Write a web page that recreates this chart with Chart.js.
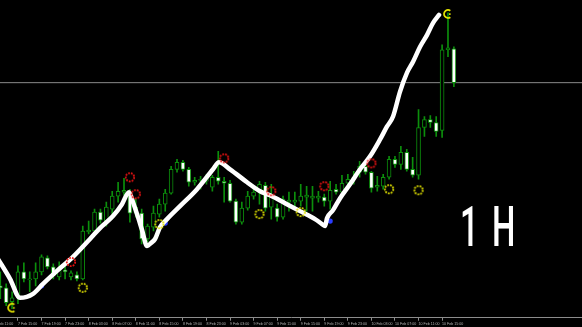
<!DOCTYPE html>
<html>
<head>
<meta charset="utf-8">
<script src="https://cdn.jsdelivr.net/npm/chart.js@4.4.1/dist/chart.umd.min.js"></script>
<style>
  html, body { margin: 0; padding: 0; background: #000; }
  canvas { display: block; }
</style>
</head>
<body>
<canvas id="grafico" width="582" height="327"></canvas>
<script>
// velas 1H, 7 Feb 12:00 -> 10 Feb 17:00 (una por hora)
const aperturas = [43, 41, 27, 32, 57, 49, 50, 57, 71, 62, 52, 59, 52, 54, 50, 97, 98, 117, 108, 120,
    133, 137, 137, 116, 116, 90, 102, 115, 125, 136, 160, 167, 160, 147, 149, 148, 142, 152, 148, 146,
    128, 107, 121, 133, 138, 144, 122, 121, 112, 127, 127, 128, 132, 131, 131, 132, 128, 140, 137, 146,
    150, 157, 163, 157, 142, 143, 152, 170, 165, 177, 160, 154, 202, 210, 207, 199, 280, 281];
const maximos = [57, 45, 37, 63, 66, 57, 66, 74, 73, 65, 67, 63, 58, 57, 103, 108, 120, 120, 127, 138,
    147, 151, 140, 130, 120, 105, 123, 130, 140, 163, 170, 169, 162, 152, 153, 155, 154, 178, 152, 149,
    130, 127, 138, 142, 148, 147, 145, 125, 133, 137, 137, 145, 143, 143, 138, 135, 148, 145, 154, 155,
    158, 168, 168, 158, 153, 155, 173, 173, 183, 180, 172, 220, 213, 214, 213, 285, 317, 283];
const minimos = [30, 23, 20, 25, 47, 37, 43, 54, 60, 50, 49, 50, 49, 48, 49, 95, 97, 106, 103, 110,
    127, 134, 107, 112, 85, 87, 98, 112, 118, 135, 157, 158, 143, 144, 140, 145, 138, 145, 127, 127,
    105, 105, 119, 130, 125, 118, 110, 108, 110, 118, 120, 123, 118, 118, 127, 123, 120, 135, 135, 143,
    145, 152, 155, 137, 138, 140, 150, 162, 160, 158, 152, 150, 193, 202, 193, 192, 273, 243];
const cierres = [41, 26, 31, 57, 50, 50, 57, 72, 62, 53, 59, 57, 56, 50, 98, 99, 117, 109, 122, 133,
    138, 139, 116, 122, 90, 103, 116, 125, 136, 160, 167, 160, 147, 149, 150, 152, 152, 148, 146, 128,
    107, 121, 133, 137, 145, 121, 132, 112, 130, 129, 129, 133, 134, 133, 133, 128, 139, 137, 146, 150,
    152, 163, 157, 141, 144, 152, 170, 165, 177, 160, 154, 202, 210, 207, 198, 280, 282, 247];

// etiquetas del eje de tiempo (cada 4 velas)
const tickIdx = [-1, 3, 7, 11, 15, 19, 23, 27, 31, 35, 39, 43, 47, 51, 55, 59, 63, 67, 71, 75];
const tickLabels = ['7 Feb 11:00', '7 Feb 15:00', '7 Feb 19:00', '7 Feb 23:00', '8 Feb 03:00',
    '8 Feb 07:00', '8 Feb 11:00', '8 Feb 15:00', '8 Feb 19:00', '8 Feb 23:00', '9 Feb 03:00',
    '9 Feb 07:00', '9 Feb 11:00', '9 Feb 15:00', '9 Feb 19:00', '9 Feb 23:00', '10 Feb 03:00',
    '10 Feb 07:00', '10 Feb 11:00', '10 Feb 15:00'];

// trazo a mano (indice de vela, precio)
const trazoIdx = [-0.5, 1.65, 3.35, 5.55, 7.25, 9.63, 12.34, 15.23, 16.93, 19.13, 20.66, 21.85,
    22.53, 23.38, 24.06, 24.91, 25.59, 26.27, 27.12, 28.3, 30.51, 33.4, 36.11, 37.13, 39, 41.89,
    44.09, 45.79, 48.34, 50.88, 53.43, 54.62, 55.13, 55.47, 56.49, 57.68, 59.37, 61.07, 62.77,
    64.47, 65.65, 66.67, 67.86, 69.05, 70.07, 71.26, 72.45, 73.47, 74.48];
const trazoPrecio = [71, 50, 31, 35, 45, 58, 72, 90, 101, 113, 125, 137, 127, 112, 99, 83, 86, 90,
    102, 110, 123, 140, 160, 167, 160, 147, 138, 134, 126, 118, 110, 105, 103, 111, 119, 131, 145,
    160, 173, 190, 203, 213, 238, 257, 268, 283, 295, 307, 315];

// marcas de indicadores
const rojoIdx = [12, 22, 23, 38, 46, 55, 63];
const rojoPrecio = [67, 152, 135, 171, 138, 143, 166];
const amarilloIdx = [14, 27, 44, 51, 66, 71];
const amarilloPrecio = [41, 105, 115, 117, 140, 139];
const lunaIdx = [2, 76];
const lunaPrecio = [21, 316];
const azulIdx = [7, 28, 56];
const azulPrecio = [43, 106, 108];

const textoMarco = '1H';

function engrane(color) {
    const c = document.createElement('canvas');
    c.width = 14; c.height = 14;
    const g = c.getContext('2d');
    g.strokeStyle = color;
    g.lineWidth = 1.8;
    g.setLineDash([1.8, 1.1]);
    g.beginPath();
    g.arc(7, 7, 4.2, 0, Math.PI * 2);
    g.stroke();
    return c;
}
function luna(color) {
    const c = document.createElement('canvas');
    c.width = 14; c.height = 14;
    const g = c.getContext('2d');
    g.strokeStyle = color;
    g.fillStyle = color;
    g.lineWidth = 1.7;
    g.beginPath();
    g.arc(7, 7, 4, Math.PI * 0.3, Math.PI * 1.7);
    g.stroke();
    g.fillRect(8, 6.3, 1.6, 1.6);
    return c;
}
function puntos(idx, precio) {
    const arr = [];
    for (let j = 0; j < idx.length; j++) arr.push({ x: idx[j], y: precio[j] });
    return arr;
}

const verde = '#0c8f0c';
const cuerpos = [];
const mechas = [];
for (let j = 0; j < aperturas.length; j++) {
    cuerpos.push({ x: j, y: [aperturas[j], cierres[j]] });
    mechas.push({ x: j, y: [minimos[j], maximos[j]] });
}
const xMin = -0.05, xMax = 98.75;
const ultimo = cierres[cierres.length - 1];

const etiqueta = {
    id: 'etiqueta',
    afterDatasetsDraw(chart) {
        const ctx = chart.ctx;
        ctx.save();
        ctx.fillStyle = '#ffffff';
        ctx.font = '500 55px Roboto';
        ctx.textBaseline = 'alphabetic';
        ctx.translate(460, 246);
        ctx.scale(0.6, 1);
        ctx.letterSpacing = '22px';
        ctx.fillText(textoMarco, 0, 0);
        ctx.restore();
    }
};

const config = {
    type: 'bar',
    data: {
        datasets: [
            {
                type: 'line',
                data: [{ x: xMin - 1, y: ultimo }, { x: xMax + 1, y: ultimo }],
                borderColor: '#8a8a8a',
                borderWidth: 1,
                pointRadius: 0,
                order: 5
            },
            {
                data: mechas,
                backgroundColor: verde,
                borderWidth: 0,
                barThickness: 1,
                grouped: false,
                order: 4
            },
            {
                data: cuerpos,
                backgroundColor: (c) => {
                    const j = c.dataIndex;
                    return cierres[j] < aperturas[j] ? '#ffffff' : '#000000';
                },
                borderColor: verde,
                borderWidth: 1,
                borderSkipped: false,
                barThickness: 4,
                grouped: false,
                order: 3
            },
            {
                type: 'scatter',
                data: puntos(azulIdx, azulPrecio),
                pointStyle: 'circle',
                pointRadius: 2.6,
                backgroundColor: '#2a3cff',
                borderWidth: 0,
                order: 2
            },
            {
                type: 'line',
                data: puntos(trazoIdx, trazoPrecio),
                borderColor: '#ffffff',
                borderWidth: 4.5,
                borderCapStyle: 'round',
                borderJoinStyle: 'round',
                cubicInterpolationMode: 'monotone',
                pointRadius: 0,
                fill: false,
                order: 1
            },
            {
                type: 'scatter',
                data: puntos(rojoIdx, rojoPrecio),
                pointStyle: engrane('#ee1414'),
                order: 0
            },
            {
                type: 'scatter',
                data: puntos(amarilloIdx, amarilloPrecio),
                pointStyle: engrane('#e0e000'),
                order: 0
            },
            {
                type: 'scatter',
                data: puntos(lunaIdx, lunaPrecio),
                pointStyle: luna('#e6e600'),
                order: 0
            }
        ]
    },
    options: {
        responsive: false,
        animation: false,
        layout: { padding: 0, autoPadding: false },
        plugins: {
            legend: { display: false },
            tooltip: { enabled: false }
        },
        scales: {
            x: {
                type: 'linear',
                min: xMin,
                max: xMax,
                offset: false,
                afterBuildTicks: (scale) => {
                    scale.ticks = tickIdx.map(v => ({ value: v }));
                },
                afterFit: (scale) => {
                    scale.paddingLeft = 0;
                    scale.paddingRight = 0;
                },
                border: { color: '#8c8c8c', width: 1 },
                grid: {
                    drawOnChartArea: false,
                    offset: false,
                    color: '#8c8c8c',
                    tickLength: 3
                },
                ticks: {
                    autoSkip: false,
                    maxRotation: 0,
                    align: 'start',
                    padding: 1,
                    color: '#b4b4b4',
                    font: { family: 'Liberation Sans', size: 3.6 },
                    callback: (v) => {
                        const k = tickIdx.indexOf(v);
                        return k >= 0 ? tickLabels[k] : '';
                    }
                }
            },
            y: {
                display: false,
                min: 11,
                max: 330
            }
        }
    },
    plugins: [etiqueta]
};

const myChart = new Chart(document.getElementById('grafico'), config);
</script>
</body>
</html>
